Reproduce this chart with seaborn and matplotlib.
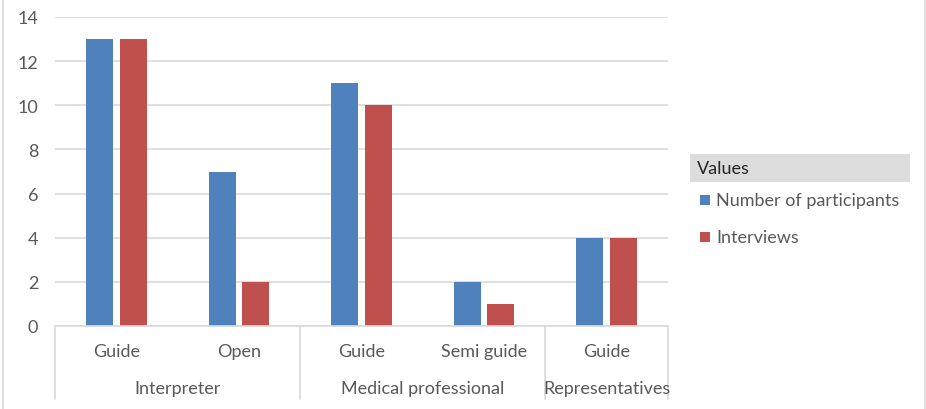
import pandas as pd
import numpy as np
import matplotlib.pyplot as plt
import seaborn as sns
from matplotlib.patches import Rectangle
from matplotlib.lines import Line2D

sns.set_theme(style="white")
plt.rcParams['font.family'] = ['Lato', 'DejaVu Sans']

groups = ["Interpreter", "Interpreter", "Medical professional", "Medical professional", "Representatives"]
subtypes = ["Guide", "Open", "Guide", "Semi guide", "Guide"]
participants = [13, 7, 11, 2, 4]
interviews = [13, 2, 10, 1, 4]
series_names = ["Number of participants", "Interviews"]
colores = ["#4F81BD", "#C0504D"]

claves = [f"{g}|{s}" for g, s in zip(groups, subtypes)]
df = pd.DataFrame({
    'clave': claves * 2,
    'serie': [series_names[0]] * 5 + [series_names[1]] * 5,
    'valor': participants + interviews,
})

W, H = 926, 410
fig = plt.figure(figsize=(W / 100, H / 100), dpi=100)
ax = fig.add_axes([55 / W, (H - 327) / H, (668 - 55) / W, (327 - 18) / H])

sns.barplot(data=df, x='clave', y='valor', hue='serie', order=claves,
            palette=colores, width=0.55, gap=0.2, saturation=1,
            linewidth=0, ax=ax)

gris_txt = '#595959'
gris_lin = '#d9d9d9'
fs = 13
ax.set_ylim(0, 14)
ax.set_xlim(-0.5, 4.5)
ax.set_yticks(range(0, 15, 2))
ax.yaxis.grid(True, color=gris_lin, linewidth=1.2)
ax.set_axisbelow(True)
for s in ['top', 'right', 'left']:
    ax.spines[s].set_visible(False)
ax.spines['bottom'].set_color(gris_lin)
ax.spines['bottom'].set_linewidth(1.2)
ax.tick_params(axis='y', length=0, pad=12, labelsize=13, labelcolor=gris_txt)
ax.set_xticks([])
ax.set_xlabel('')
ax.set_ylabel('')

# eje de categorías en dos niveles
tr = ax.get_xaxis_transform()
for i, s in enumerate(subtypes):
    ax.text(i, -0.081, s, transform=tr, ha='center', va='center',
            fontsize=fs, color=gris_txt)
grupos_unicos = list(dict.fromkeys(groups))
for g in grupos_unicos:
    idx = [i for i, x in enumerate(groups) if x == g]
    ax.text(np.mean(idx), -0.2, g, transform=tr, ha='center', va='center',
            fontsize=fs, color=gris_txt)
for xs in [-0.5, 1.5, 3.5, 4.5]:
    ax.add_line(Line2D([xs, xs], [0, -0.236], transform=tr, color=gris_lin,
                       linewidth=1.2, clip_on=False))

# leyenda
ax.get_legend().remove()
fig.patches.append(Rectangle((690 / W, 1 - 183 / H), 220 / W, 28 / H,
                             transform=fig.transFigure, facecolor='#dcdcdc',
                             edgecolor='none'))
fig.text(697 / W, 1 - 169 / H, "Values", fontsize=fs, color='#262626',
         ha='left', va='center')
for k, (nom, c) in enumerate(zip(series_names, colores)):
    yc = 201 + 37 * k
    fig.patches.append(Rectangle((700 / W, 1 - (yc + 5) / H), 10 / W, 10 / H,
                                 transform=fig.transFigure, facecolor=c,
                                 edgecolor='none'))
    fig.text(716 / W, 1 - yc / H, nom, fontsize=fs, color=gris_txt,
             ha='left', va='center')

# borde exterior
fig.patches.append(Rectangle((3 / W, -0.01), 922 / W, 1.02,
                             transform=fig.transFigure, facecolor='none',
                             edgecolor=gris_lin, linewidth=1.2))

fig.savefig('out.png', dpi=100)
